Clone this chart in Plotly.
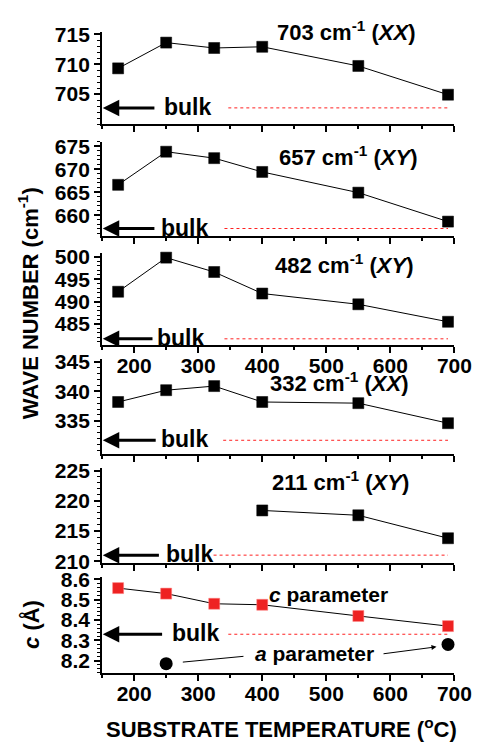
import plotly.graph_objects as go

# ---------------- data ----------------
temps = [175, 250, 325, 400, 550, 690]
w703 = [709.3, 713.6, 712.7, 712.9, 709.7, 704.9]
w657 = [666.6, 673.8, 672.4, 669.4, 664.9, 658.6]
w482 = [492.2, 499.8, 496.6, 491.8, 489.4, 485.5]
w332 = [338.2, 340.2, 340.9, 338.2, 338.0, 334.6]
temps211 = [400, 550, 690]
w211 = [218.4, 217.6, 213.8]
c_param = [8.557, 8.53, 8.48, 8.475, 8.42, 8.37]
a_temps = [250, 690]
a_param = [8.185, 8.28]

bulk_vals = [702.7, 657.1, 481.7, 331.7, 211.0, 8.33]
bulk_start = [347, 341, 341, 339, 324, 347]
bulk_end = [690, 690, 690, 690, 690, 690]

titles = ["703 cm<sup>-1</sup> (<i>XX</i>)", "657 cm<sup>-1</sup> (<i>XY</i>)",
          "482 cm<sup>-1</sup> (<i>XY</i>)", "332 cm<sup>-1</sup> (<i>XX</i>)",
          "211 cm<sup>-1</sup> (<i>XY</i>)"]

yranges = [[700, 715.3], [655.5, 676], [480.4, 500.9], [329.45, 345.5], [209.7, 225.4], [8.14, 8.61]]
ytickvals = [[705, 710, 715], [660, 665, 670, 675], [485, 490, 495, 500],
             [335, 340, 345], [210, 215, 220, 225], [8.2, 8.3, 8.4, 8.5, 8.6]]
yminor = [1, 1, 1, 1, 1, 0.02]
xticks = [200, 300, 400, 500, 600, 700]

# ---------------- layout geometry (pixels) ----------------
W, H = 491, 754
panel_px = [(23, 117), (135, 231.7), (249, 343.3), (358, 455), (470, 567.3), (582, 680)]
xdom = [106 / W, 471.7 / W]

FONT = "Liberation Sans, Arial, sans-serif"

fig = go.Figure()

series = [(temps, w703), (temps, w657), (temps, w482), (temps, w332), (temps211, w211), (temps, c_param)]

for i, (xs, ys) in enumerate(series):
    n = i + 1
    xa = "x" if n == 1 else f"x{n}"
    ya = "y" if n == 1 else f"y{n}"
    fig.add_trace(go.Scatter(x=[bulk_start[i], bulk_end[i]], y=[bulk_vals[i]] * 2, mode="lines",
                             line=dict(color="#ff2020", width=1, dash="dot"),
                             xaxis=xa, yaxis=ya, showlegend=False, hoverinfo="skip"))
    color = "#ee2222" if i == 5 else "black"
    fig.add_trace(go.Scatter(x=xs, y=ys, mode="lines+markers",
                             line=dict(color="black", width=1),
                             marker=dict(symbol="square", size=11, color=color,
                                         line=dict(color="#ff8080" if i == 5 else "black", width=0.5)),
                             xaxis=xa, yaxis=ya, showlegend=False, cliponaxis=False))

fig.add_trace(go.Scatter(x=a_temps, y=a_param, mode="markers",
                         marker=dict(symbol="circle", size=13, color="black"),
                         xaxis="x6", yaxis="y6", showlegend=False, cliponaxis=False))

layout = dict(width=W, height=H, margin=dict(l=0, r=0, t=0, b=0), autosize=False,
              paper_bgcolor="white", plot_bgcolor="white", showlegend=False,
              font=dict(family=FONT, color="black"))

for i in range(6):
    n = i + 1
    top, bot = panel_px[i]
    ydom = [1 - bot / H, 1 - top / H]
    xk = "xaxis" if n == 1 else f"xaxis{n}"
    yk = "yaxis" if n == 1 else f"yaxis{n}"
    ya = "y" if n == 1 else f"y{n}"
    xa = "x" if n == 1 else f"x{n}"
    layout[xk] = dict(domain=xdom, anchor=ya, range=[150, 700], showline=True, linewidth=2,
                      linecolor="black", ticks="outside", ticklen=6, tickwidth=2, tickcolor="black",
                      tickvals=xticks, showticklabels=(n in (3, 6)), ticklabelstandoff=-5,
                      tickfont=dict(size=21, family=FONT, weight="bold"),
                      minor=dict(ticks="outside", ticklen=3, tickwidth=1.5, tickcolor="black", dtick=50, tick0=0),
                      showgrid=False, zeroline=False, fixedrange=True)
    layout[yk] = dict(domain=ydom, anchor=xa, range=yranges[i], showline=True, linewidth=2,
                      linecolor="black", ticks="outside", ticklen=6, tickwidth=2, tickcolor="black",
                      tickvals=ytickvals[i], tickfont=dict(size=21, family=FONT, weight="bold"),
                      minor=dict(ticks="outside", ticklen=3, tickwidth=1, tickcolor="black",
                                 dtick=yminor[i], tick0=0),
                      showgrid=False, zeroline=False, fixedrange=True)

fig.update_layout(**layout)

ann = []
bulk_text_x = [283, 278, 273, 278, 286, 296]
arrow_tail = [234, 234, 231, 236, 241, 246]
for i in range(6):
    n = i + 1
    xa = "x" if n == 1 else f"x{n}"
    ya = "y" if n == 1 else f"y{n}"
    ann.append(dict(x=151, y=bulk_vals[i], ax=arrow_tail[i], ay=bulk_vals[i], xref=xa, yref=ya,
                    axref=xa, ayref=ya, text="", showarrow=True, arrowhead=2, arrowsize=1.1,
                    arrowwidth=3, arrowcolor="black"))
    ann.append(dict(x=bulk_text_x[i], y=bulk_vals[i], xref=xa, yref=ya, text="<b>bulk</b>",
                    showarrow=False, font=dict(size=23, family=FONT), yshift=1,
                    xanchor="center", yanchor="middle"))

title_px = [(359.5, 22), (361.7, 150), (357, 261), (351.7, 382), (353, 483)]
for t, (px, py) in zip(titles, title_px):
    ann.append(dict(x=px / W, y=1 - py / H, xref="paper", yref="paper", text=f"<b>{t}</b>",
                    showarrow=False, font=dict(size=22, family=FONT), xanchor="center", yanchor="middle"))

ann.append(dict(x=341 / W, y=1 - 600 / H, xref="paper", yref="paper", xanchor="center", yanchor="middle",
                text="<b><i>c</i> parameter</b>", showarrow=False, font=dict(size=21, family=FONT)))
ann.append(dict(x=326 / W, y=1 - 660 / H, xref="paper", yref="paper", xanchor="center", yanchor="middle",
                text="<b><i>a</i> parameter</b>", showarrow=False, font=dict(size=21, family=FONT)))
ann.append(dict(x=276, y=8.193, ax=373, ay=8.222, xref="x6", yref="y6", axref="x6", ayref="y6",
                text="", showarrow=True, arrowhead=0, arrowwidth=1, arrowcolor="black"))
ann.append(dict(x=672, y=8.268, ax=587, ay=8.233, xref="x6", yref="y6", axref="x6", ayref="y6",
                text="", showarrow=True, arrowhead=2, arrowsize=1, arrowwidth=1, arrowcolor="black"))

ann.append(dict(x=30 / W, y=1 - 301 / H, xref="paper", yref="paper", textangle=-90,
                xanchor="center", yanchor="middle",
                text="<b>WAVE NUMBER (cm<sup>-1</sup>)</b>", showarrow=False,
                font=dict(size=22, family=FONT)))
ann.append(dict(x=32 / W, y=1 - 630 / H, xref="paper", yref="paper", textangle=-90,
                xanchor="center", yanchor="middle",
                text="<b><i>c</i> (Å)</b>", showarrow=False, font=dict(size=22, family=FONT)))
ann.append(dict(x=292 / W, y=1 - 737 / H, xref="paper", yref="paper",
                xanchor="center", yanchor="middle",
                text="<b>SUBSTRATE TEMPERATURE (<sup>o</sup>C)</b>", showarrow=False,
                font=dict(size=22, family=FONT)))

fig.update_layout(annotations=ann)
fig.write_html("out.html", config={"displayModeBar": False})
